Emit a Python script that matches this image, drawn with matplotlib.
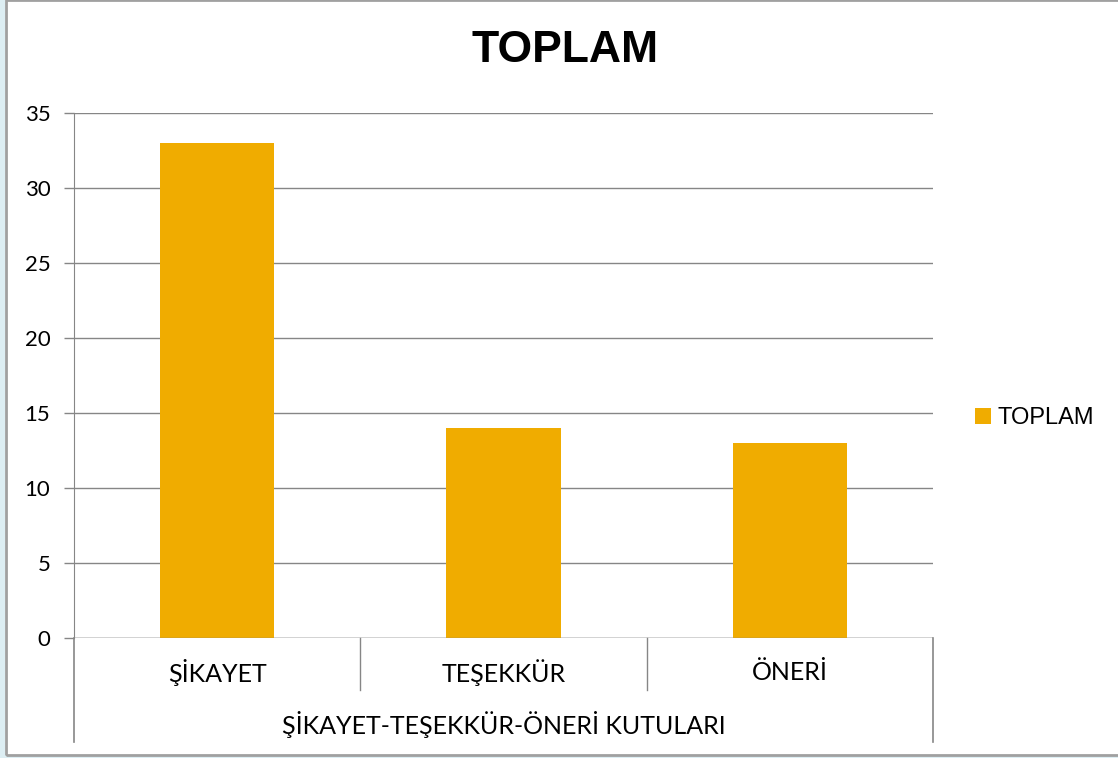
import matplotlib.pyplot as plt
from matplotlib.patches import Rectangle
import numpy as np

categories = ['ŞİKAYET', 'TEŞEKKÜR', 'ÖNERİ']
values = [33, 14, 13]
series_name = 'TOPLAM'
group_label = 'ŞİKAYET-TEŞEKKÜR-ÖNERİ KUTULARI'
yticks = [0, 5, 10, 15, 20, 25, 30, 35]

W, H = 1118, 758
fig = plt.figure(figsize=(W / 100, H / 100), dpi=100)

# outer frame like the screenshot
fig.patches.append(Rectangle((0, 0), 5 / W, 1, transform=fig.transFigure,
                             facecolor='#ddeef3', edgecolor='none', zorder=0))
fig.patches.append(Rectangle((0, 0), 1, 3 / H, transform=fig.transFigure,
                             facecolor='#ddeef3', edgecolor='none', zorder=0))
fig.patches.append(Rectangle((6 / W, 3 / H), 1, 1 - 3 / H, transform=fig.transFigure,
                             facecolor='none', edgecolor='#a0a0a0', lw=2, zorder=1))

left, right, top, bottom = 74, 933, 113, 638
ax = fig.add_axes([left / W, 1 - bottom / H, (right - left) / W, (bottom - top) / H])

x = np.arange(len(categories))
ax.bar(x, values, width=0.4, color='#f0ac00', label=series_name, zorder=3)

ax.set_xlim(-0.5, len(categories) - 0.5)
ax.set_ylim(0, 35)
ax.set_yticks(yticks)
ax.set_yticklabels([str(v) for v in yticks], fontfamily='Lato', fontsize=16)
ax.tick_params(axis='y', length=7, width=1, color='#868686', pad=10)
ax.set_xticks([])
ax.grid(axis='y', color='#868686', lw=1, zorder=0)

for s in ['top', 'right', 'bottom']:
    ax.spines[s].set_visible(False)
ax.spines['left'].set_color('#868686')
ax.axhline(0, color='#868686', lw=1, zorder=4)

# category boxes below the axis
trans = ax.get_xaxis_transform()
ax_h = (bottom - top)
def yax(py):
    return (bottom - py) / ax_h

for b in [0.5, 1.5]:
    ax.plot([b, b], [0, yax(690)], transform=trans, color='#868686', lw=1, clip_on=False)
for b in [-0.5, 2.5]:
    ax.plot([b, b], [0, yax(742)], transform=trans, color='#868686', lw=1.2, clip_on=False)

for xi, c in zip(x, categories):
    ax.text(xi, yax(673), c, transform=trans, ha='center', va='center',
            fontfamily='Lato', fontsize=18)
ax.text(1, yax(725), group_label, transform=trans, ha='center', va='center',
        fontfamily='Lato', fontsize=18)

fig.text(565 / W, 1 - 51 / H, 'TOPLAM', ha='center', va='center',
         fontfamily='Liberation Sans', fontweight='bold', fontsize=32)

leg = fig.legend(loc='center left', bbox_to_anchor=(966 / W, 1 - 418 / H), frameon=False,
                 prop={'family': 'Liberation Sans', 'size': 17},
                 handlelength=0.65, handleheight=0.65, handletextpad=0.3, borderaxespad=0)

fig.savefig('out.png', dpi=100)
